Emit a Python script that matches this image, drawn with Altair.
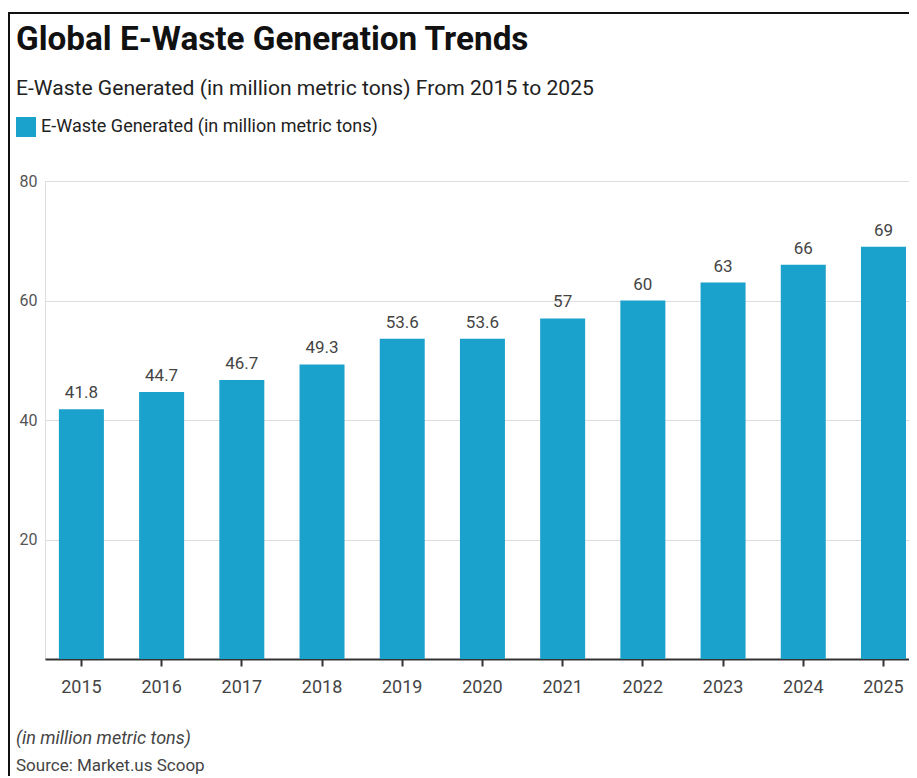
import altair as alt
import pandas as pd

years = ["2015", "2016", "2017", "2018", "2019", "2020", "2021", "2022", "2023", "2024", "2025"]
values = [41.8, 44.7, 46.7, 49.3, 53.6, 53.6, 57, 60, 63, 66, 69]
series_name = "E-Waste Generated (in million metric tons)"
y_ticks = [20, 40, 60, 80]

title_text = "Global E-Waste Generation Trends"
subtitle_text = "E-Waste Generated (in million metric tons) From 2015 to 2025"
note_text = "(in million metric tons)"
source_text = "Source: Market.us Scoop"

FONT = "Roboto"
BAR = "#1aa1cc"

df = pd.DataFrame({"Year": years, "Value": values, "Series": [series_name] * len(years)})

x_enc = alt.X("Year:N", sort=years, title=None,
              scale=alt.Scale(paddingInner=0.44, paddingOuter=0.106, align=0.82),
              axis=alt.Axis(labelAngle=0, labelFontSize=18, labelColor="#444", labelFont=FONT,
                            labelPadding=12, tickSize=7, tickColor="#333", tickWidth=2,
                            domainColor="#333", domainWidth=2, grid=False))
y_enc = alt.Y("Value:Q", title=None,
              scale=alt.Scale(domain=[0, 80], nice=False),
              axis=alt.Axis(values=y_ticks, labelFontSize=16, labelColor="#555", labelFont=FONT,
                            labelPadding=8, ticks=False, domain=False,
                            gridColor="#dddddd", gridWidth=1))

base = alt.Chart(df)

bars = base.mark_bar(size=45).encode(
    x=x_enc,
    y=y_enc,
    color=alt.Color("Series:N",
                    scale=alt.Scale(domain=[series_name], range=[BAR]),
                    legend=alt.Legend(title=None, orient="none", legendX=-29, legendY=-64,
                                      symbolType="square", symbolSize=400, symbolStrokeWidth=0,
                                      labelFontSize=18, labelColor="#222", labelFont=FONT,
                                      labelOffset=5, labelLimit=0, padding=0)),
)

labels = base.mark_text(baseline="alphabetic", dy=-11, fontSize=17, color="#444", font=FONT).encode(
    x=alt.X("Year:N", sort=years),
    y="Value:Q",
    text=alt.Text("Value:Q", format=".1~f"),
)

title_mark = alt.Chart(pd.DataFrame({"t": [title_text]})).mark_text(
    align="left", baseline="alphabetic", fontSize=33.3, fontWeight="bold", color="#111", font=FONT
).encode(x=alt.value(-29), y=alt.value(-131), text="t:N")

subtitle_mark = alt.Chart(pd.DataFrame({"t": [subtitle_text]})).mark_text(
    align="left", baseline="alphabetic", fontSize=21.1, color="#222", font=FONT
).encode(x=alt.value(-29), y=alt.value(-86), text="t:N")

note_mark = alt.Chart(pd.DataFrame({"t": [note_text]})).mark_text(
    align="left", baseline="alphabetic", fontSize=18, fontStyle="italic", color="#444", font=FONT
).encode(x=alt.value(-29), y=alt.value(563), text="t:N")

source_mark = alt.Chart(pd.DataFrame({"t": [source_text]})).mark_text(
    align="left", baseline="alphabetic", fontSize=17, color="#444", font=FONT
).encode(x=alt.value(-29), y=alt.value(590), text="t:N")

border_left = alt.Chart(pd.DataFrame({"k": [0]})).mark_rule(color="#111", strokeWidth=2).encode(
    x=alt.value(-36), y=alt.value(-168), y2=alt.value(610))
border_top = alt.Chart(pd.DataFrame({"k": [0]})).mark_rule(color="#111", strokeWidth=2).encode(
    x=alt.value(-37), x2=alt.value(864), y=alt.value(-168))

chart = alt.layer(bars, labels, title_mark, subtitle_mark, note_mark, source_mark,
                  border_left, border_top).properties(
    width=864, height=478,
    autosize="none",
    padding={"left": 37, "top": 173, "right": 0, "bottom": 117},
    background="white",
).configure_view(stroke=None).configure(font=FONT)

chart.save("out.html", embed_options={"renderer": "svg", "actions": False})
